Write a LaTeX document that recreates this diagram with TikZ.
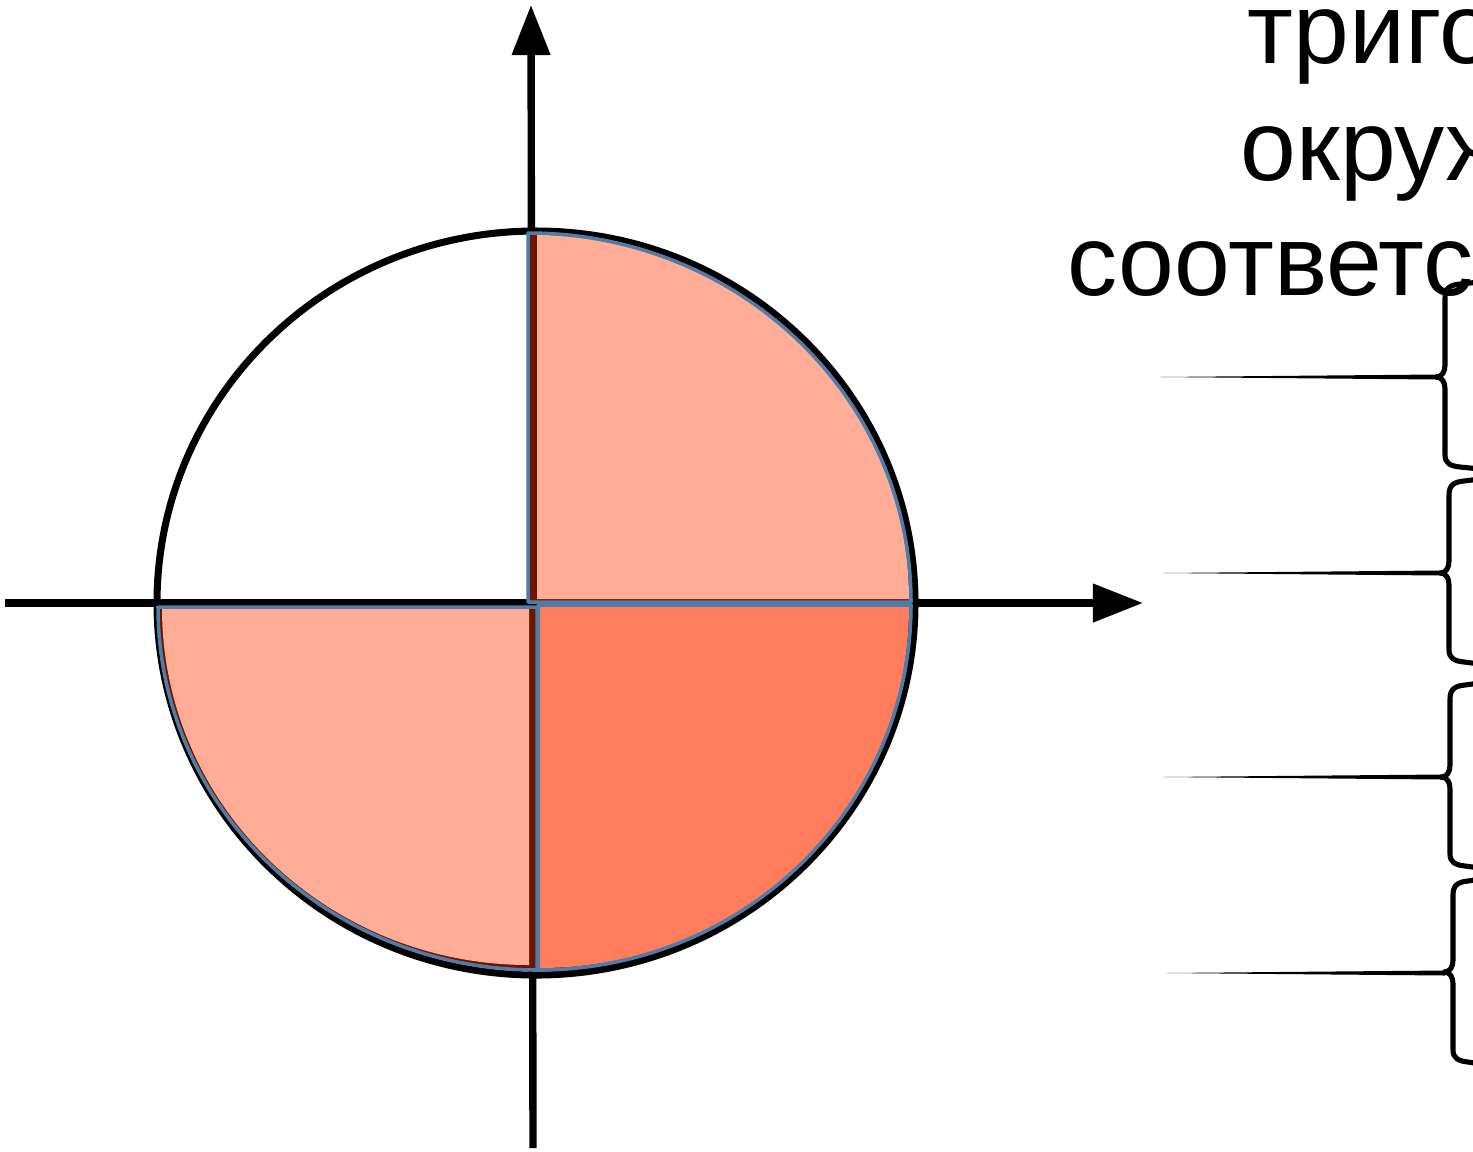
\documentclass[tikz,border=0pt]{standalone}
\usepackage{fontspec}
\setmainfont{Liberation Sans}
\usetikzlibrary{arrows.meta}
\definecolor{QPink}{HTML}{FFAD97}
\definecolor{QOrange}{HTML}{FF7D5C}
\definecolor{QDark}{HTML}{6E1500}
\definecolor{QBlue}{HTML}{4F7DA8}
\tikzset{
  axisline/.style={line width=2.1pt,-{Triangle[length=0.5cm,width=0.37cm]}},
  qedge/.style={QBlue,line width=1pt,line join=round},
  qbrace/.style={line width=1.45pt,line join=round},
  qtitle/.style={anchor=base west,inner sep=0pt,font=\fontsize{28.5}{33}\selectfont}
}
\begin{document}
\begin{tikzpicture}[x=0.01cm,y=-0.01cm]
\path[use as bounding box] (0,0) rectangle (1473,1151);
% axes
\draw[axisline] (5,603) -- (1143,603);
\draw[axisline] (533,1148) -- (531,5);
% circle
\draw[line width=2pt] (536,603) ellipse [x radius=379,y radius=372];
% first quarter
\fill[QDark] (528,602) -- (528,233) arc[start angle=-90,end angle=0,x radius=383,y radius=369] -- cycle;
\fill[QPink] (537,599) -- (537,235) arc[start angle=-90,end angle=0,x radius=372,y radius=364] -- cycle;
\draw[qedge] (528,602) -- (528,233) arc[start angle=-90,end angle=0,x radius=383,y radius=369] -- cycle;
% third quarter
\fill[QDark] (537,607) -- (158,607) arc[start angle=180,end angle=90,x radius=379,y radius=363] -- cycle;
\fill[QPink] (529,608) -- (162,608) arc[start angle=180,end angle=90,x radius=367,y radius=357] -- cycle;
\draw[qedge] (537,607) -- (158,607) arc[start angle=180,end angle=90,x radius=379,y radius=363] -- cycle;
% fourth quarter
\fill[QDark] (538,605) -- (911,605) arc[start angle=0,end angle=90,x radius=373,y radius=365] -- cycle;
\fill[QOrange] (540,607) -- (909,607) arc[start angle=0,end angle=90,x radius=369,y radius=361] -- cycle;
\draw[qedge] (538,605) -- (911,605) arc[start angle=0,end angle=90,x radius=373,y radius=365] -- cycle;
% title
\node[qtitle] (title1) at (1247,63) {триго};
\node[qtitle] (title2) at (1240,180) {окруж};
\node[qtitle] (title3) at (1067,295) {соответст};
% leader lines
\fill (1160,377) -- (1437,374.5) -- (1437,379.5) -- cycle;
\fill (1163,573) -- (1441,570.5) -- (1441,575.5) -- cycle;
\fill (1163,777) -- (1442,774.5) -- (1442,779.5) -- cycle;
\fill (1166,973) -- (1445,970.5) -- (1445,975.5) -- cycle;
% braces
\draw[qbrace] (1480,282) -- (1460,284) .. controls (1450,285) and (1445,288) .. (1445,298) -- (1445,365) .. controls (1445,372) and (1442,377) .. (1436,377) .. controls (1442,377) and (1445,382) .. (1445,389) -- (1445,455) .. controls (1445,463) and (1450,466) .. (1460,467) -- (1480,469);
\draw[qbrace] (1480,479) -- (1464,481) .. controls (1454,482) and (1449,485) .. (1449,495) -- (1449,561) .. controls (1449,568) and (1446,573) .. (1440,573) .. controls (1446,573) and (1449,578) .. (1449,585) -- (1449,650) .. controls (1449,658) and (1454,661) .. (1464,662) -- (1480,664);
\draw[qbrace] (1480,683) -- (1465,685) .. controls (1455,686) and (1450,689) .. (1450,699) -- (1450,765) .. controls (1450,772) and (1447,777) .. (1441,777) .. controls (1447,777) and (1450,782) .. (1450,789) -- (1450,854) .. controls (1450,862) and (1455,865) .. (1465,866) -- (1480,868);
\draw[qbrace] (1480,879) -- (1468,881) .. controls (1458,882) and (1453,885) .. (1453,895) -- (1453,960) .. controls (1453,967) and (1450,972) .. (1444,972) .. controls (1450,972) and (1453,977) .. (1453,984) -- (1453,1050) .. controls (1453,1058) and (1458,1061) .. (1468,1062) -- (1480,1064);
\end{tikzpicture}
\end{document}
